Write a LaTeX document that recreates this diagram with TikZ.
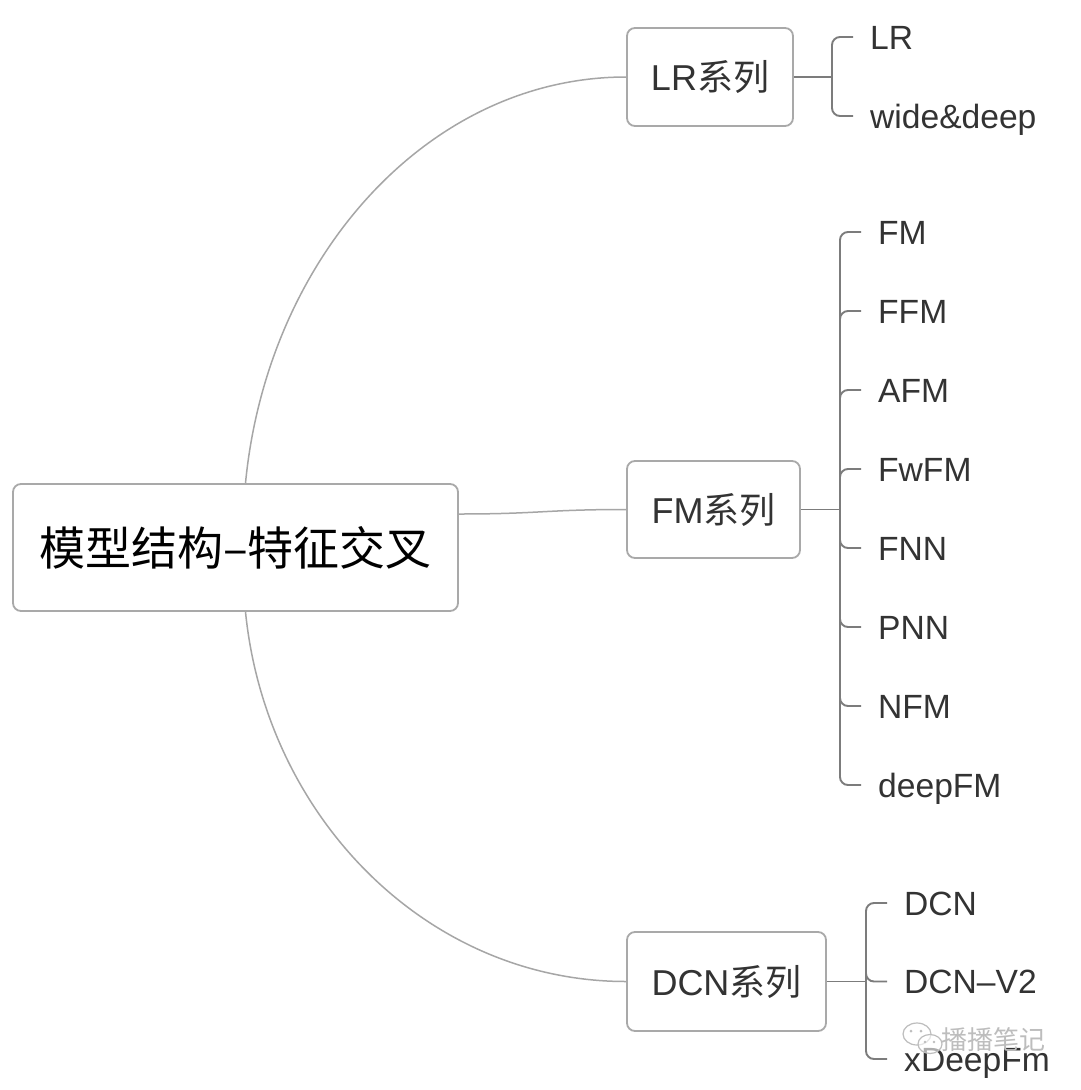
\documentclass[tikz,border=0pt]{standalone}
\usepackage{fontspec}
\setmainfont{Liberation Sans}
\newfontfamily\cjk{Noto Sans CJK SC}
\usetikzlibrary{calc}
\definecolor{boxgray}{HTML}{A9A9A9}
\definecolor{linegray}{HTML}{A6A6A6}
\definecolor{brkgray}{HTML}{7C7C7C}
\definecolor{txt}{HTML}{333333}
\definecolor{wm}{HTML}{BDBDBD}
\begin{document}
\begin{tikzpicture}[x=1pt,y=-1pt,
  boxst/.style={draw=boxgray, line width=1.8pt, rounded corners=8pt, fill=white, text=txt, inner sep=0pt},
  rootbox/.style={boxst, minimum width=445pt, minimum height=127pt, text=black, font=\cjk\fontsize{46}{46}\selectfont},
  branchbox/.style={boxst, minimum height=98pt, font=\fontsize{36}{36}\selectfont},
  leafst/.style={anchor=west, inner xsep=17pt, inner ysep=0pt, text height=24pt, text depth=0pt, text=txt, font=\fontsize{33.6}{34}\selectfont},
  conn/.style={draw=linegray, line width=1.5pt},
  brk/.style={draw=brkgray, line width=1.9pt, rounded corners=8pt},
  wmark/.style={text=wm, font=\cjk\fontsize{26}{26}\selectfont, inner sep=0pt}
]
\useasboundingbox[fill=white] (0,0) rectangle (1080,1090);

% root and branches
\node[rootbox] (root) at (235.5,547.5) {模型结构–特征交叉};
\node[branchbox, minimum width=166pt] (lr) at (710,77) {LR{\cjk 系列}};
\node[branchbox, minimum width=173pt, minimum height=97pt] (fm) at (713.5,509.5) {FM{\cjk 系列}};
\node[branchbox, minimum width=199pt, minimum height=99pt] (dcn) at (726.5,981.5) {DCN{\cjk 系列}};

% root connectors
\draw[conn] ([xshift=10pt]root.north) .. controls (267,259) and (427,77) .. (lr.west);
\draw[conn] ([yshift=33.5pt]root.east) .. controls (540,514) and (545,509.5) .. (fm.west);
\draw[conn] ([xshift=10pt]root.south) .. controls (266,817) and (427,981.5) .. (dcn.west);

% LR leaves
\coordinate (jl) at (832,77);
\node[leafst] (l1) at (853,37) {LR};
\node[leafst] (l2) at (853,116) {wide\&deep};
\draw[brk] (lr.east) -- (jl);
\foreach \n in {l1,l2} \draw[brk] (jl) |- (\n.west);

% FM leaves
\coordinate (jf) at (840,509.5);
\node[leafst] (f1) at (861,232) {FM};
\node[leafst] (f2) at (861,311) {FFM};
\node[leafst] (f3) at (861,390) {AFM};
\node[leafst] (f4) at (861,469) {FwFM};
\node[leafst] (f5) at (861,548) {FNN};
\node[leafst] (f6) at (861,627) {PNN};
\node[leafst] (f7) at (861,706) {NFM};
\node[leafst] (f8) at (861,785) {deepFM};
\draw[brk] (fm.east) -- (jf);
\foreach \n in {f1,f2,f3,f4,f5,f6,f7,f8} \draw[brk] (jf) |- (\n.west);

% DCN leaves
\coordinate (jd) at (866,981.5);
\node[leafst] (d1) at (887,903) {DCN};
\node[leafst] (d2) at (887,981.5) {DCN–V2};
\node[leafst] (d3) at (887,1059) {xDeepFm};
\draw[brk] (dcn.east) -- (jd);
\foreach \n in {d1,d2,d3} \draw[brk] (jd) |- (\n.west);

% watermark (printed over xDeepFm in the reference)
\draw[wm, line width=1.2pt, fill=white, fill opacity=0.6] (917,1034) ellipse [x radius=14pt, y radius=11pt];
\draw[wm, line width=1.2pt, fill=white, fill opacity=0.6] (930,1044) ellipse [x radius=12pt, y radius=9.5pt];
\fill[wm] (911,1031) circle (1.5pt) (921,1031) circle (1.5pt) (925,1042) circle (1.3pt) (934,1042) circle (1.3pt);
\node[wmark, anchor=west] (wmtext) at (941,1040) {播播笔记};
\end{tikzpicture}
\end{document}
